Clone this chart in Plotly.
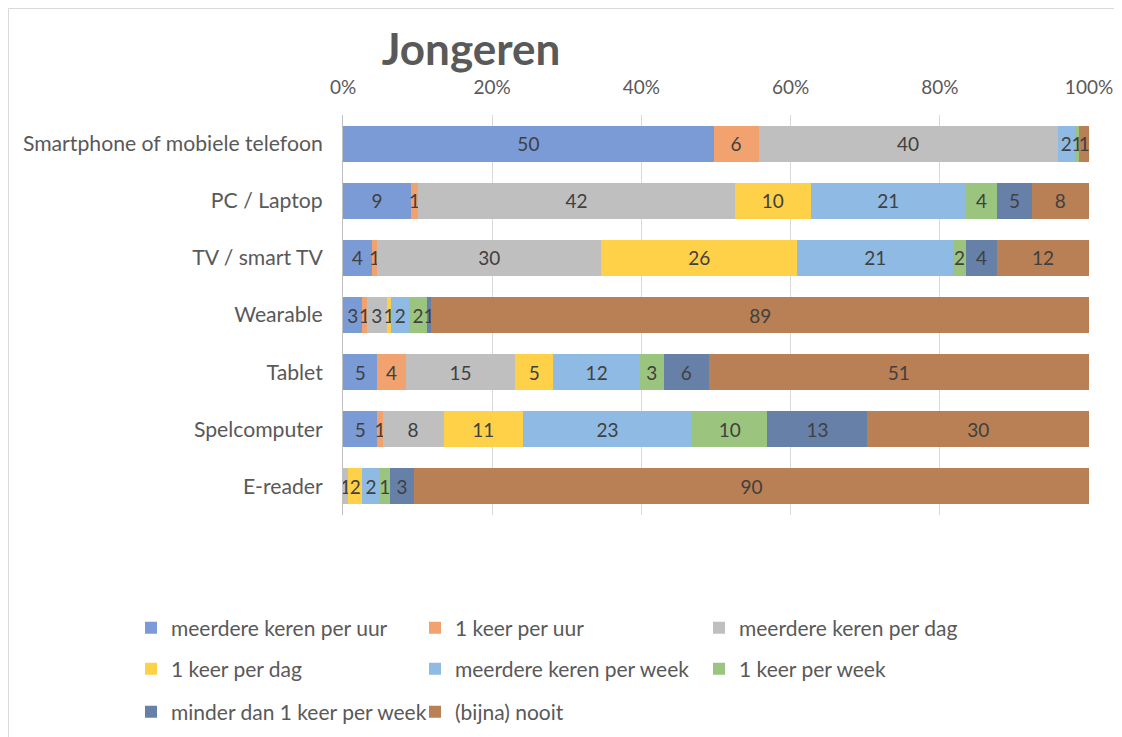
import plotly.graph_objects as go

categories = ["Smartphone of mobiele telefoon", "PC / Laptop", "TV / smart TV",
              "Wearable", "Tablet", "Spelcomputer", "E-reader"]

series_names = ["meerdere keren per uur", "1 keer per uur", "meerdere keren per dag",
                "1 keer per dag", "meerdere keren per week", "1 keer per week",
                "minder dan 1 keer per week", "(bijna) nooit"]

meerdere_per_uur = [49.7, 9.1, 3.9, 2.6, 4.6, 4.6, 0.0]
een_per_uur = [6.0, 1.0, 0.7, 0.6, 3.8, 0.7, 0.0]
meerdere_per_dag = [40.1, 42.4, 30.0, 2.7, 14.7, 8.2, 0.7]
een_per_dag = [0.0, 10.2, 26.3, 0.6, 5.1, 10.6, 1.9]
meerdere_per_week = [2.3, 20.8, 20.9, 2.4, 11.6, 22.7, 2.3]
een_per_week = [0.6, 4.2, 1.7, 2.4, 3.2, 10.1, 1.4]
minder_dan_week = [0.0, 4.6, 4.2, 0.6, 6.0, 13.4, 3.2]
bijna_nooit = [1.3, 7.7, 12.3, 88.6, 51.0, 29.7, 90.4]

colors = ["#7B9BD7", "#F1A26E", "#BFBFBF", "#FFD149", "#8FBAE3", "#9BC57E", "#6780A8", "#B97F55"]

all_values = [meerdere_per_uur, een_per_uur, meerdere_per_dag, een_per_dag,
              meerdere_per_week, een_per_week, minder_dan_week, bijna_nooit]

legend_ids = ["legend", "legend", "legend", "legend2", "legend2", "legend2", "legend3", "legend3"]

FONT = "Lato"
TXT = "#595959"

fig = go.Figure()
for name, vals, col, lg in zip(series_names, all_values, colors, legend_ids):
    labels = [str(int(v + 0.5)) if v >= 0.5 else "" for v in vals]
    fig.add_trace(go.Bar(
        y=categories, x=vals, name=name, orientation="h",
        marker=dict(color=col, line=dict(width=0)),
        text=labels, textposition="inside", insidetextanchor="middle",
        textangle=0, constraintext="none",
        insidetextfont=dict(family=FONT, size=19, color="#404040"),
        legend=lg,
    ))

# page body adds an 8px offset; layout is expressed in figure pixels
OFF = 8
W, H = 1122, 737
L, R, T, B = 343 - OFF, W - (1089 - OFF), 115 - OFF, H - (515 - OFF)
pw = W - L - R
ph = H - T - B

def px_x(px):
    return (px - OFF - L) / pw

def px_y(py):
    return (H - B - (py - OFF)) / ph

leg_common = dict(orientation="h", entrywidth=239, entrywidthmode="pixels",
                  font=dict(family=FONT, size=21, color=TXT), traceorder="normal",
                  xanchor="left", yanchor="middle", bgcolor="rgba(0,0,0,0)",
                  itemclick=False, tracegroupgap=0)

fig.update_layout(
    width=W, height=H,
    margin=dict(l=L, r=R, t=T, b=B, autoexpand=False),
    barmode="stack", barnorm="percent", bargap=0.37,
    paper_bgcolor="white", plot_bgcolor="white",
    font=dict(family=FONT, color=TXT),
    title=dict(text="<b>Jongeren</b>", x=(471 - OFF) / W, xanchor="center",
               y=1 - (50 - OFF) / H, yanchor="middle", xref="container", yref="container",
               font=dict(family=FONT, size=44, color=TXT)),
    xaxis=dict(side="top", range=[0, 100], tickvals=[0, 20, 40, 60, 80, 100],
               ticktext=["0%", "20%", "40%", "60%", "80%", "100%"],
               showgrid=True, gridcolor="#D9D9D9", gridwidth=1, zeroline=False,
               showline=False, ticks="", ticklabelstandoff=16,
               tickfont=dict(family=FONT, size=19, color=TXT), fixedrange=True),
    yaxis=dict(autorange="reversed", showgrid=False, showline=True, linecolor="#BFBFBF",
               linewidth=1, ticks="", ticklabelstandoff=15,
               tickfont=dict(family=FONT, size=21.2, color=TXT), fixedrange=True),
    legend=dict(x=px_x(131), y=px_y(628), **leg_common),
    legend2=dict(x=px_x(131), y=px_y(669), **leg_common),
    legend3=dict(x=px_x(131), y=px_y(712), **leg_common),
    showlegend=True,
)

fig.add_shape(type="rect", xref="paper", yref="paper",
              x0=px_x(OFF + 0.5), x1=px_x(1117), y0=px_y(760), y1=px_y(OFF + 0.5),
              line=dict(color="#D9D9D9", width=1), fillcolor="rgba(0,0,0,0)", layer="below")

fig.write_html("out.html")
